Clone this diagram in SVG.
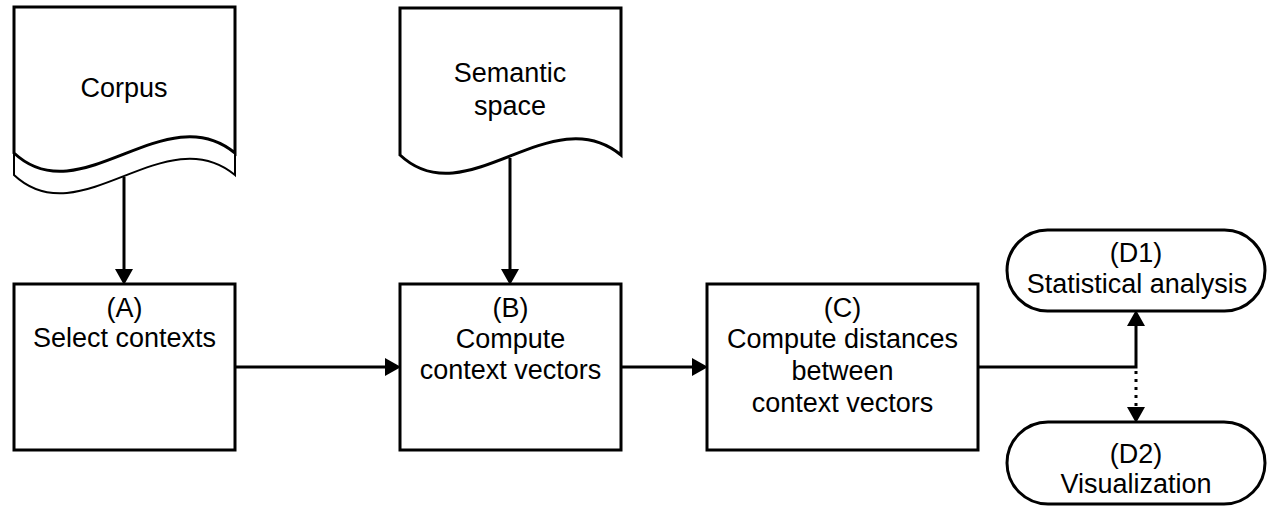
<svg xmlns="http://www.w3.org/2000/svg" width="1268" height="506" viewBox="0 0 1268 506">
  <style>
    .shape { fill: #ffffff; stroke: #000000; stroke-width: 3; stroke-linejoin: miter; }
    .thin { fill: none; stroke: #000000; stroke-width: 2; }
    .label { font-family: "Liberation Sans", Arial, sans-serif; font-size: 27px; fill: #000000; text-anchor: middle; }
    .wire { fill: none; stroke: #000000; stroke-width: 3; }
    .dotted { fill: none; stroke: #000000; stroke-width: 3; stroke-dasharray: 3 5; }
  </style>
  <defs>
    <marker id="arrow" markerUnits="userSpaceOnUse" markerWidth="16" markerHeight="18" refX="5" refY="9" orient="auto">
      <path d="M0,0 L16,9 L0,18 Z" fill="#000000"/>
    </marker>
  </defs>
  <rect width="1268" height="506" fill="#ffffff"/>

  <!-- Corpus: document with a curled second sheet -->
  <g id="corpus">
    <path class="thin" d="M14,153 L14,175 C80,237 165,117 235,175 L235,153" fill="#ffffff"/>
    <path class="shape" d="M14,7 L235,7 L235,153 C165,95 80,215 14,153 Z"/>
    <text class="label" x="124" y="97">Corpus</text>
  </g>

  <!-- Semantic space: document -->
  <g id="semantic-space">
    <path class="shape" d="M400,8 L621,8 L621,155 C551,97 466,217 400,155 Z"/>
    <text class="label" x="510" y="82">Semantic</text>
    <text class="label" x="510" y="115">space</text>
  </g>

  <!-- (A) Select contexts -->
  <g id="node-a">
    <rect class="shape" x="14" y="284" width="221" height="166"/>
    <text class="label" x="124.5" y="317">(A)</text>
    <text class="label" x="124.5" y="347">Select contexts</text>
  </g>

  <!-- (B) Compute context vectors -->
  <g id="node-b">
    <rect class="shape" x="400" y="284" width="221" height="166"/>
    <text class="label" x="510.5" y="317">(B)</text>
    <text class="label" x="510.5" y="348">Compute</text>
    <text class="label" x="510.5" y="379">context vectors</text>
  </g>

  <!-- (C) Compute distances between context vectors -->
  <g id="node-c">
    <rect class="shape" x="707" y="284" width="271" height="166"/>
    <text class="label" x="842.5" y="317">(C)</text>
    <text class="label" x="842.5" y="348">Compute distances</text>
    <text class="label" x="842.5" y="380">between</text>
    <text class="label" x="842.5" y="412">context vectors</text>
  </g>

  <!-- (D1) Statistical analysis -->
  <g id="node-d1">
    <rect class="shape" x="1007" y="230" width="258" height="81" rx="40.5" ry="40.5"/>
    <text class="label" x="1136" y="262">(D1)</text>
    <text class="label" x="1137" y="293">Statistical analysis</text>
  </g>

  <!-- (D2) Visualization -->
  <g id="node-d2">
    <rect class="shape" x="1007" y="422" width="258" height="82" rx="41" ry="41"/>
    <text class="label" x="1136" y="463">(D2)</text>
    <text class="label" x="1136" y="493">Visualization</text>
  </g>

  <!-- Connectors -->
  <g id="connectors">
    <line class="wire" x1="124" y1="177" x2="124" y2="274" marker-end="url(#arrow)"/>
    <line class="wire" x1="510" y1="158" x2="510" y2="274" marker-end="url(#arrow)"/>
    <line class="wire" x1="235" y1="367" x2="390" y2="367" marker-end="url(#arrow)"/>
    <line class="wire" x1="621" y1="367" x2="697" y2="367" marker-end="url(#arrow)"/>
    <polyline class="wire" points="978,367 1136,367 1136,321" marker-end="url(#arrow)"/>
    <line class="dotted" x1="1136" y1="371" x2="1136" y2="412" marker-end="url(#arrow)"/>
  </g>
</svg>
